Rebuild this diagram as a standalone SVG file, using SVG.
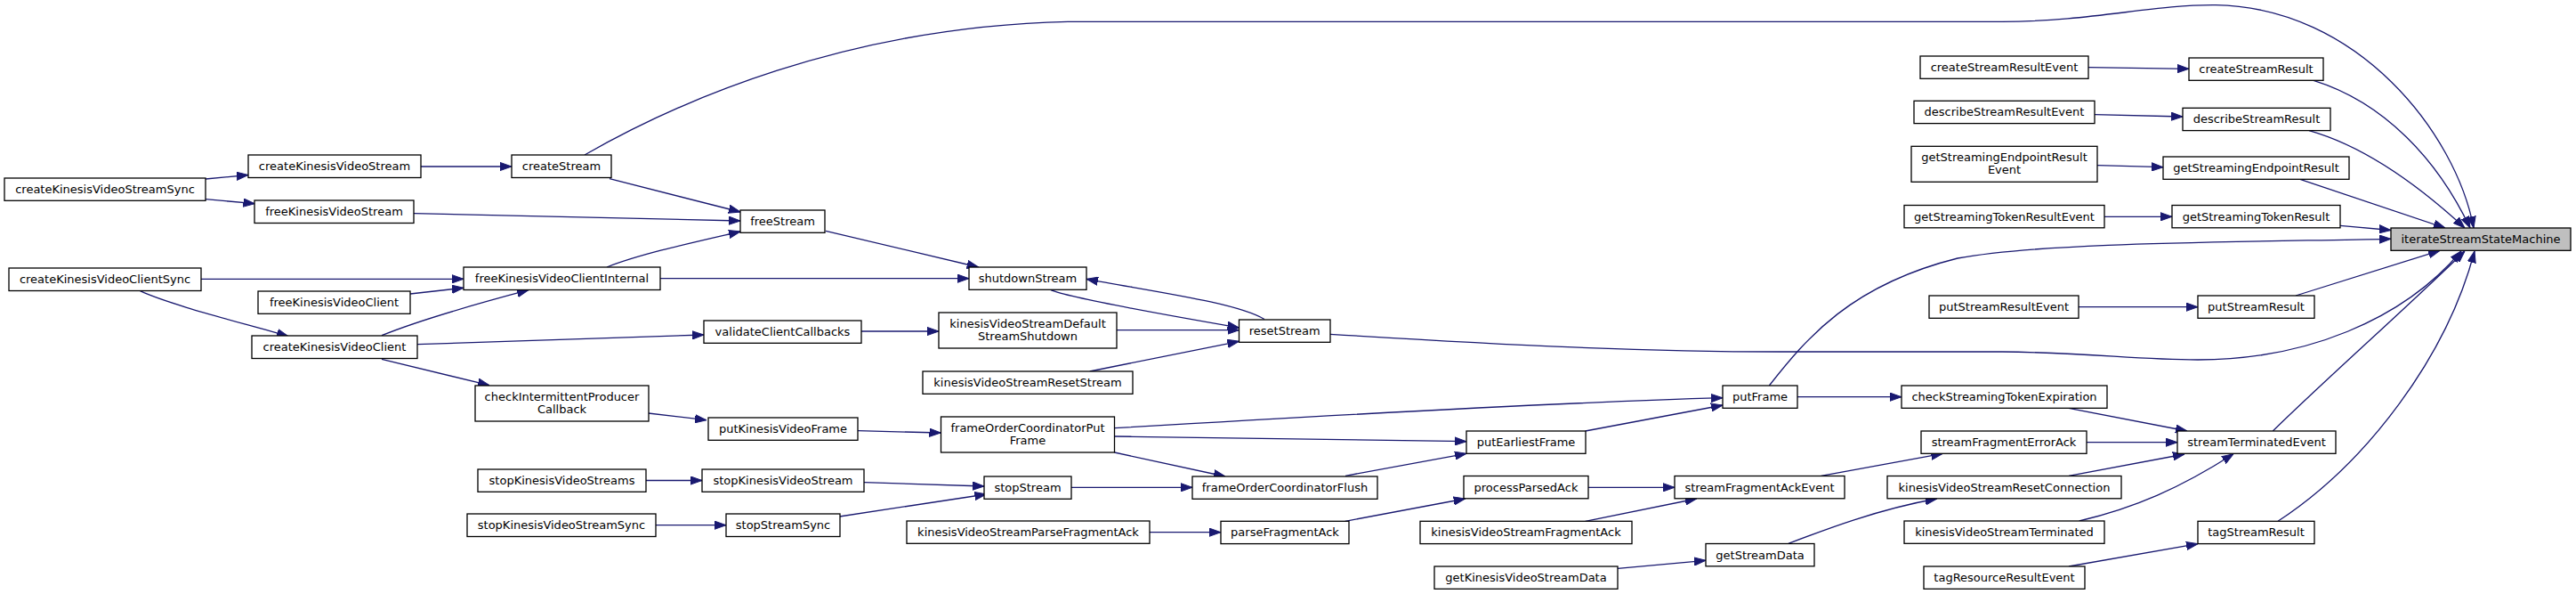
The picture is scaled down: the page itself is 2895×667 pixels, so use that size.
<svg xmlns="http://www.w3.org/2000/svg" width="2895" height="667" viewBox="0 0 2895 667">
<style>
.node rect{fill:#ffffff;stroke:#000000;stroke-width:1.3}
.node.main rect{fill:#bfbfbf}
.node text{font-family:"DejaVu Sans","Liberation Sans",sans-serif;font-size:13px;text-anchor:middle;fill:#000000}
.edges path{fill:none;stroke:#191970;stroke-width:1.3;marker-end:url(#arr)}
</style>
<defs>
<marker id="arr" markerUnits="userSpaceOnUse" viewBox="0 0 13 10" refX="13" refY="5" markerWidth="13" markerHeight="10" orient="auto">
<path d="M0,0.4 L13,5 L0,9.6 z" fill="#191970" stroke="#191970" stroke-width="1"/>
</marker>
</defs>
<rect x="0" y="0" width="2895" height="667" fill="#ffffff"/>
<g class="edges" id="edges">
<path d="M231,201 L279,196.5"/>
<path d="M231,223.7 L286.5,228.7"/>
<path d="M473,187 L575,187"/>
<path d="M685,200.7 L832,238"/>
<path d="M465,239.7 C600,242 720,245 832,248"/>
<path d="M682,300 C720,285 780,272 832,260"/>
<path d="M928,259.3 L1099.7,300"/>
<path d="M742,312.7 L1089,312.7"/>
<path d="M226,313.3 L521,313.3"/>
<path d="M157.5,326.7 C190,342 270,362 324,377.7"/>
<path d="M461,330 L521,323.3"/>
<path d="M429,376.7 C470,360 540,340 594,325.7"/>
<path d="M469,386.7 C600,383 700,379 791,376"/>
<path d="M429,403.3 L550,432.7"/>
<path d="M968,372 L1055,372"/>
<path d="M1255,370.7 L1392.5,370.7"/>
<path d="M1181,325.7 C1200,334 1300,352 1392.5,368"/>
<path d="M1421,358.5 C1390,340 1300,328 1221,313.3"/>
<path d="M1224.7,417 L1392.5,383.3"/>
<path d="M1495,375.3 C1700,388 1850,395 2000,395 L2250,395 C2350,396 2400,404 2470,404 C2590,404 2700,360 2766,282"/>
<path d="M657,174 C760,115 950,30 1200,24.3 L2250,24.3 C2350,24 2420,5 2490,5.7 C2650,8 2760,150 2780,256"/>
<path d="M728.6,464 L794,471.7"/>
<path d="M964,483.7 L1057.5,486"/>
<path d="M1252.5,480.7 C1500,466 1750,452 1936,446.7"/>
<path d="M1252.5,490 C1400,492 1550,494 1648,495.7"/>
<path d="M1252.5,508 L1377,535"/>
<path d="M1512,534.3 L1648,509.3"/>
<path d="M1781.7,484 L1936,455"/>
<path d="M726,539.5 L789,539.5"/>
<path d="M737,589.7 L816,589.7"/>
<path d="M971,541.7 L1106,546"/>
<path d="M943.6,580 L1108.4,555"/>
<path d="M1204,547.3 L1340,547.3"/>
<path d="M1292,597.7 L1372,597.7"/>
<path d="M1511.7,585.3 L1646.7,560"/>
<path d="M1785,547.3 L1882,547.3"/>
<path d="M1781.7,585.3 L1906.7,560"/>
<path d="M2046.7,534.3 L2183.3,509.3"/>
<path d="M1818,638.3 L1917,629.3"/>
<path d="M2010,610.3 C2050,595 2110,572 2176.7,560"/>
<path d="M2020,445.7 L2137,445.7"/>
<path d="M1988.3,433 C2030,380 2080,320 2200,290 C2300,272 2500,272 2687,268.3"/>
<path d="M2325,458.3 L2458,484"/>
<path d="M2345,496.7 L2447,496.7"/>
<path d="M2325,534.3 L2455,510"/>
<path d="M2336.7,585 C2400,570 2450,548 2510,509.7"/>
<path d="M2554.3,484 C2620,420 2700,350 2770,282"/>
<path d="M2347,75.7 L2460,77.3"/>
<path d="M2354,128.7 L2453,131"/>
<path d="M2357,185.7 L2431,187.7"/>
<path d="M2365,243.3 L2441,243.3"/>
<path d="M2336,344.7 L2470,344.7"/>
<path d="M2325,636 L2470,610.7"/>
<path d="M2600,90.3 C2680,115 2740,180 2776,256"/>
<path d="M2595,146.7 C2660,165 2720,210 2770,256"/>
<path d="M2585,201.3 L2748,256"/>
<path d="M2630,253.3 L2687,258.5"/>
<path d="M2580,332 L2742,281.3"/>
<path d="M2560,585.3 C2660,520 2750,400 2781,282"/>
</g>
<g class="node" id="createKinesisVideoStreamSync"><rect x="5" y="200" width="226" height="25.3"/><text x="118" y="217">createKinesisVideoStreamSync</text></g>
<g class="node" id="createKinesisVideoStream"><rect x="279" y="174" width="194" height="25.5"/><text x="376" y="191">createKinesisVideoStream</text></g>
<g class="node" id="freeKinesisVideoStream"><rect x="286" y="225" width="179" height="25.5"/><text x="375.5" y="242">freeKinesisVideoStream</text></g>
<g class="node" id="createKinesisVideoClientSync"><rect x="10" y="301" width="216" height="25.5"/><text x="118" y="318">createKinesisVideoClientSync</text></g>
<g class="node" id="freeKinesisVideoClientInternal"><rect x="521" y="300" width="221" height="25.5"/><text x="631.5" y="317">freeKinesisVideoClientInternal</text></g>
<g class="node" id="freeKinesisVideoClient"><rect x="290" y="327" width="171" height="25.3"/><text x="375.5" y="344">freeKinesisVideoClient</text></g>
<g class="node" id="createKinesisVideoClient"><rect x="283" y="377" width="186" height="25.5"/><text x="376" y="394">createKinesisVideoClient</text></g>
<g class="node" id="createStream"><rect x="575" y="174" width="112" height="25.5"/><text x="631" y="191">createStream</text></g>
<g class="node" id="checkIntermittentProducerCallback"><rect x="534" y="433" width="195" height="40"/><text x="631.5" y="449.5">checkIntermittentProducer</text><text x="631.5" y="463.5">Callback</text></g>
<g class="node" id="stopKinesisVideoStreams"><rect x="537" y="527" width="189" height="25.3"/><text x="631.5" y="544">stopKinesisVideoStreams</text></g>
<g class="node" id="stopKinesisVideoStreamSync"><rect x="525" y="577" width="212" height="25.5"/><text x="631" y="594">stopKinesisVideoStreamSync</text></g>
<g class="node" id="freeStream"><rect x="832" y="236" width="95" height="25.3"/><text x="879.5" y="253">freeStream</text></g>
<g class="node" id="validateClientCallbacks"><rect x="791" y="360" width="177" height="25.3"/><text x="879.5" y="377">validateClientCallbacks</text></g>
<g class="node" id="putKinesisVideoFrame"><rect x="796" y="469" width="168" height="25.3"/><text x="880" y="486">putKinesisVideoFrame</text></g>
<g class="node" id="stopKinesisVideoStream"><rect x="789" y="527" width="182" height="25.3"/><text x="880" y="544">stopKinesisVideoStream</text></g>
<g class="node" id="stopStreamSync"><rect x="816" y="577" width="128" height="25.5"/><text x="880" y="594">stopStreamSync</text></g>
<g class="node" id="shutdownStream"><rect x="1089" y="300" width="132" height="25.3"/><text x="1155" y="317">shutdownStream</text></g>
<g class="node" id="kinesisVideoStreamDefaultStreamShutdown"><rect x="1055" y="351" width="200" height="40"/><text x="1155" y="367.5">kinesisVideoStreamDefault</text><text x="1155" y="381.5">StreamShutdown</text></g>
<g class="node" id="kinesisVideoStreamResetStream"><rect x="1037" y="417" width="236" height="25.3"/><text x="1155" y="434">kinesisVideoStreamResetStream</text></g>
<g class="node" id="frameOrderCoordinatorPutFrame"><rect x="1057.5" y="468" width="195" height="40"/><text x="1155" y="484.5">frameOrderCoordinatorPut</text><text x="1155" y="498.5">Frame</text></g>
<g class="node" id="stopStream"><rect x="1106" y="535" width="98" height="25.3"/><text x="1155" y="552">stopStream</text></g>
<g class="node" id="kinesisVideoStreamParseFragmentAck"><rect x="1019" y="585" width="273" height="25.3"/><text x="1155.5" y="602">kinesisVideoStreamParseFragmentAck</text></g>
<g class="node" id="resetStream"><rect x="1392.5" y="359" width="102.5" height="25.3"/><text x="1443.75" y="376">resetStream</text></g>
<g class="node" id="frameOrderCoordinatorFlush"><rect x="1340" y="535" width="208" height="25.3"/><text x="1444" y="552">frameOrderCoordinatorFlush</text></g>
<g class="node" id="parseFragmentAck"><rect x="1372" y="585.3" width="144" height="25.3"/><text x="1444" y="602.3">parseFragmentAck</text></g>
<g class="node" id="putEarliestFrame"><rect x="1648" y="484" width="134" height="25.3"/><text x="1715" y="501">putEarliestFrame</text></g>
<g class="node" id="processParsedAck"><rect x="1645" y="534.5" width="140" height="25.3"/><text x="1715" y="551.5">processParsedAck</text></g>
<g class="node" id="kinesisVideoStreamFragmentAck"><rect x="1596" y="585.3" width="238" height="25.3"/><text x="1715" y="602.3">kinesisVideoStreamFragmentAck</text></g>
<g class="node" id="getKinesisVideoStreamData"><rect x="1612" y="636" width="206" height="25.3"/><text x="1715" y="653">getKinesisVideoStreamData</text></g>
<g class="node" id="putFrame"><rect x="1936" y="433" width="84" height="25.3"/><text x="1978" y="450">putFrame</text></g>
<g class="node" id="streamFragmentAckEvent"><rect x="1882" y="534.5" width="191" height="25.3"/><text x="1977.5" y="551.5">streamFragmentAckEvent</text></g>
<g class="node" id="getStreamData"><rect x="1917" y="610.5" width="122" height="25.3"/><text x="1978" y="627.5">getStreamData</text></g>
<g class="node" id="createStreamResultEvent"><rect x="2158" y="63" width="189" height="25.3"/><text x="2252.5" y="80">createStreamResultEvent</text></g>
<g class="node" id="describeStreamResultEvent"><rect x="2151" y="113.3" width="203" height="25.3"/><text x="2252.5" y="130.3">describeStreamResultEvent</text></g>
<g class="node" id="getStreamingEndpointResultEvent"><rect x="2148" y="164.3" width="209" height="40"/><text x="2252.5" y="180.8">getStreamingEndpointResult</text><text x="2252.5" y="194.8">Event</text></g>
<g class="node" id="getStreamingTokenResultEvent"><rect x="2140" y="230.5" width="225" height="25.3"/><text x="2252.5" y="247.5">getStreamingTokenResultEvent</text></g>
<g class="node" id="putStreamResultEvent"><rect x="2168" y="332" width="168" height="25.3"/><text x="2252" y="349">putStreamResultEvent</text></g>
<g class="node" id="checkStreamingTokenExpiration"><rect x="2137" y="433" width="231" height="25.3"/><text x="2252.5" y="450">checkStreamingTokenExpiration</text></g>
<g class="node" id="streamFragmentErrorAck"><rect x="2159" y="484" width="186" height="25.3"/><text x="2252" y="501">streamFragmentErrorAck</text></g>
<g class="node" id="kinesisVideoStreamResetConnection"><rect x="2121" y="534.5" width="263" height="25.3"/><text x="2252.5" y="551.5">kinesisVideoStreamResetConnection</text></g>
<g class="node" id="kinesisVideoStreamTerminated"><rect x="2140" y="585" width="225" height="25.3"/><text x="2252.5" y="602">kinesisVideoStreamTerminated</text></g>
<g class="node" id="tagResourceResultEvent"><rect x="2162" y="636" width="181" height="25.3"/><text x="2252.5" y="653">tagResourceResultEvent</text></g>
<g class="node" id="createStreamResult"><rect x="2460" y="65" width="151" height="25.3"/><text x="2535.5" y="82">createStreamResult</text></g>
<g class="node" id="describeStreamResult"><rect x="2453" y="121.3" width="166" height="25.3"/><text x="2536" y="138.3">describeStreamResult</text></g>
<g class="node" id="getStreamingEndpointResult"><rect x="2431" y="176" width="209" height="25.3"/><text x="2535.5" y="193">getStreamingEndpointResult</text></g>
<g class="node" id="getStreamingTokenResult"><rect x="2441" y="230.5" width="189" height="25.3"/><text x="2535.5" y="247.5">getStreamingTokenResult</text></g>
<g class="node" id="putStreamResult"><rect x="2470" y="332" width="131" height="25.3"/><text x="2535.5" y="349">putStreamResult</text></g>
<g class="node" id="streamTerminatedEvent"><rect x="2447" y="484" width="178" height="25.3"/><text x="2536" y="501">streamTerminatedEvent</text></g>
<g class="node" id="tagStreamResult"><rect x="2470" y="585.3" width="131" height="25.3"/><text x="2535.5" y="602.3">tagStreamResult</text></g>
<g class="node main" id="iterateStreamStateMachine"><rect x="2687" y="256" width="202" height="25.3"/><text x="2788" y="273">iterateStreamStateMachine</text></g>
</svg>
